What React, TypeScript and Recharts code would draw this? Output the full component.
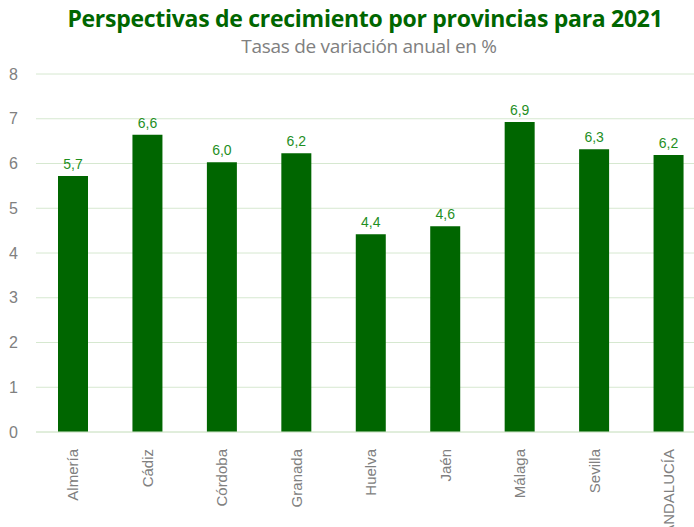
import React from "react";
import { BarChart, Bar, XAxis, YAxis, CartesianGrid, LabelList } from "recharts";

const categories = ["Almería", "Cádiz", "Córdoba", "Granada", "Huelva", "Jaén", "Málaga", "Sevilla", "ANDALUCÍA"];
const values = [5.72, 6.64, 6.03, 6.23, 4.42, 4.6, 6.93, 6.32, 6.19];
const yTicks = [0, 1, 2, 3, 4, 5, 6, 7, 8];

const data = categories.map((c, i) => ({ name: c, value: values[i] }));

const XTick = (props: any) => {
  const { x, y, payload } = props;
  return (
    <text
      transform={`translate(${x},${y + 9}) rotate(-90)`}
      textAnchor="end"
      dy="0.35em"
      fill="#808080"
      fontSize={15}
      fontFamily="Liberation Sans, Arial, sans-serif"
    >
      {payload.value}
    </text>
  );
};

export default function App() {
  return (
    <div style={{ position: "absolute", left: 0, top: 0, width: 694, height: 527, overflow: "hidden", background: "#fff" }}>
      <div
        style={{
          position: "absolute",
          left: 0,
          top: 7,
          width: 730,
          height: 23,
          lineHeight: "23px",
          textAlign: "center",
          fontFamily: "Open Sans, sans-serif",
          fontWeight: 700,
          fontSize: 23,
          color: "#006600",
          letterSpacing: -0.28,
          whiteSpace: "nowrap",
        }}
      >
        Perspectivas de crecimiento por provincias para 2021
      </div>
      <div
        style={{
          position: "absolute",
          left: 0,
          top: 37,
          width: 738,
          height: 19,
          lineHeight: "19px",
          textAlign: "center",
          fontFamily: "Open Sans, sans-serif",
          fontWeight: 400,
          fontSize: 19,
          color: "#808080",
          letterSpacing: -0.3,
          whiteSpace: "nowrap",
        }}
      >
        Tasas de variación anual en %
      </div>
      <div style={{ position: "absolute", left: 0, top: 0 }}>
        <BarChart width={706} height={560} data={data} margin={{ top: 74, right: 0, bottom: 0, left: 0 }} barCategoryGap="30%">
          <CartesianGrid vertical={false} stroke="#d6e8d0" />
          <XAxis
            dataKey="name"
            interval={0}
            tickLine={false}
            axisLine={{ stroke: "#d6e8d0" }}
            height={128}
            tick={<XTick />}
          />
          <YAxis
            domain={[0, 8]}
            ticks={yTicks}
            width={36}
            tickLine={false}
            axisLine={false}
            tickMargin={12}
            tick={{ fill: "#808080", fontSize: 16, fontFamily: "Liberation Sans, Arial, sans-serif" }}
          />
          <Bar dataKey="value" fill="#006600" barSize={30} isAnimationActive={false}>
            <LabelList
              dataKey="value"
              position="top"
              offset={7}
              fill="#1f8f1f"
              fontSize={14}
              fontFamily="Liberation Sans, Arial, sans-serif"
              formatter={(v: any) => Number(v).toFixed(1).replace(".", ",")}
            />
          </Bar>
        </BarChart>
      </div>
    </div>
  );
}
